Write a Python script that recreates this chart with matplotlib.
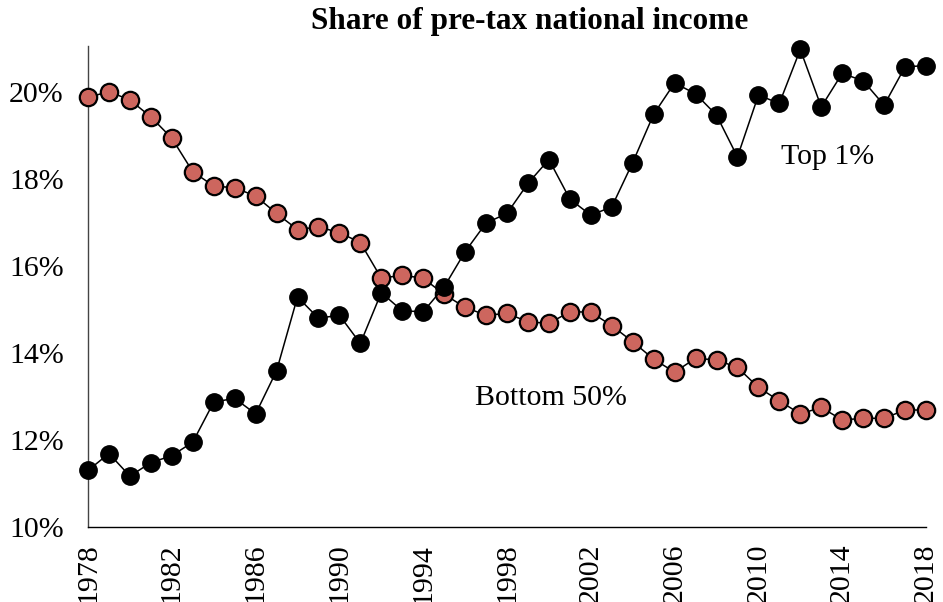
import matplotlib
matplotlib.use("Agg")
import matplotlib.pyplot as plt

years = list(range(1978, 2019))
top1 = [11.30, 11.69, 11.17, 11.48, 11.64, 11.95, 12.87, 12.96, 12.60, 13.59,
        15.29, 14.80, 14.87, 14.22, 15.39, 14.97, 14.95, 15.52, 16.33, 16.99,
        17.21, 17.90, 18.45, 17.54, 17.17, 17.36, 18.38, 19.49, 20.21, 19.96,
        19.47, 18.51, 19.93, 19.74, 20.98, 19.66, 20.43, 20.26, 19.70, 20.58, 20.61]
bottom50 = [19.88, 20.01, 19.82, 19.43, 18.94, 18.17, 17.84, 17.80, 17.61, 17.21,
            16.84, 16.90, 16.77, 16.54, 15.72, 15.79, 15.72, 15.35, 15.05, 14.87,
            14.91, 14.72, 14.68, 14.95, 14.94, 14.63, 14.26, 13.86, 13.56, 13.88,
            13.84, 13.67, 13.21, 12.90, 12.60, 12.75, 12.46, 12.50, 12.50, 12.69, 12.69]
yticks = [10, 12, 14, 16, 18, 20]
xticks = list(range(1978, 2019, 4))

plt.rcParams['font.family'] = ['Liberation Serif', 'DejaVu Serif']

fig = plt.figure(figsize=(9.43, 6.02), dpi=100)
ax = fig.add_axes([88/943, 75/602, (926-88)/943, (527-46)/602])

ax.plot(years, bottom50, color='black', lw=1.1, marker='o', ms=12.5,
        markerfacecolor='#cd665e', markeredgecolor='black', markeredgewidth=1.6,
        clip_on=False, zorder=3)
ax.plot(years, top1, color='black', lw=1.1, marker='o', ms=12.5,
        markerfacecolor='black', markeredgecolor='black',
        clip_on=False, zorder=4)

ax.set_xlim(1978, 2018)
ax.set_ylim(10, 21.06)
ax.set_yticks(yticks)
ax.set_yticklabels([f"{v}%" for v in yticks], fontsize=21.5)
ax.set_xticks(xticks)
ax.set_xticklabels([str(v) for v in xticks], rotation=90, fontsize=21.5)
ax.tick_params(axis='y', length=0, pad=17.5)
ax.tick_params(axis='x', length=0, pad=12)
for s in ['top', 'right']:
    ax.spines[s].set_visible(False)
ax.spines['left'].set_color('#444444')
ax.spines['left'].set_linewidth(1.0)
ax.spines['bottom'].set_color('black')
ax.spines['bottom'].set_linewidth(1.0)

ax.text(2011.1, 18.51, "Top 1%", fontsize=21.5, ha='left', va='center')
ax.text(1996.45, 12.97, "Bottom 50%", fontsize=21.5, ha='left', va='center')

fig.text(530/943, 1 - 22/602, "Share of pre-tax national income",
         fontsize=22.5, fontweight='bold', ha='center', va='center')

fig.savefig("out.png", dpi=100)
